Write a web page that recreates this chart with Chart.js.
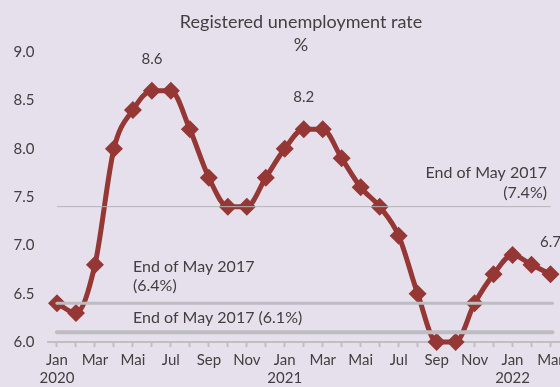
<!DOCTYPE html>
<html>
<head>
<meta charset="utf-8">
<script src="https://cdn.jsdelivr.net/npm/chart.js@4"></script>
<style>
  html, body { margin: 0; padding: 0; background: #e6e0ec; overflow: hidden; }
  #wrap { width: 560px; height: 387px; overflow: hidden; position: relative; }
  canvas { display: block; }
</style>
</head>
<body>
<div id="wrap"><canvas id="rateChart" width="600" height="391"></canvas></div>
<script>
const months = ['Jan', 'Feb', 'Mar', 'Apr', 'Mai', 'Jun', 'Jul', 'Aug', 'Sep', 'Oct', 'Nov', 'Dec',
                'Jan', 'Feb', 'Mar', 'Apr', 'Mai', 'Jun', 'Jul', 'Aug', 'Sep', 'Oct', 'Nov', 'Dec',
                'Jan', 'Feb', 'Mar'];
const years = { 0: '2020', 12: '2021', 24: '2022' };
const rate = [6.4, 6.3, 6.8, 8.0, 8.4, 8.6, 8.6, 8.2, 7.7, 7.4, 7.4, 7.7,
              8.0, 8.2, 8.2, 7.9, 7.6, 7.4, 7.1, 6.5, 6.0, 6.0, 6.4, 6.7,
              6.9, 6.8, 6.7];
// reference levels from end of May 2017
const refLevels = [7.4, 6.4, 6.1];
// which points carry a value label
const labelledPoints = [5, 13, 26];

const FONT = 'Lato, "Open Sans", sans-serif';
const TEXT = '#404040';

const overlay = {
  id: 'overlay',
  afterDatasetsDraw(chart) {
    const { ctx, scales: { x, y } } = chart;
    const x0 = x.getPixelForValue(0);
    const x1 = x.getPixelForValue(months.length - 1) + 2;
    const widths = [1, 3, 4];
    const colors = ['#b4b4b4', '#bdbcc0', '#bdbcc0'];
    ctx.save();
    refLevels.forEach((v, i) => {
      const py = y.getPixelForValue(v);
      ctx.beginPath();
      ctx.lineWidth = widths[i];
      ctx.strokeStyle = colors[i];
      ctx.lineCap = i === 0 ? 'butt' : 'round';
      ctx.moveTo(x0, py);
      ctx.lineTo(i === 0 ? x1 - 2 : x1, py);
      ctx.stroke();
    });

    ctx.fillStyle = TEXT;
    ctx.font = '16px ' + FONT;
    ctx.textBaseline = 'middle';
    const p74 = y.getPixelForValue(7.4);
    ctx.textAlign = 'right';
    ctx.fillText('End of May 2017', 547, p74 - 34);
    ctx.fillText('(7.4%)', 547, p74 - 14);
    const p64 = y.getPixelForValue(6.4);
    ctx.textAlign = 'left';
    ctx.fillText('End of May 2017', 133, p64 - 36);
    ctx.fillText('(6.4%)', 133, p64 - 17);
    const p61 = y.getPixelForValue(6.1);
    ctx.fillText('End of May 2017 (6.1%)', 133, p61 - 14);

    // value labels above selected points
    const meta = chart.getDatasetMeta(0);
    ctx.font = '15px ' + FONT;
    ctx.textAlign = 'center';
    labelledPoints.forEach(i => {
      const pt = meta.data[i];
      ctx.fillText(rate[i].toFixed(1), pt.x, pt.y - 32);
    });

    // title block
    ctx.font = '18px ' + FONT;
    ctx.fillText('Registered unemployment rate', 301, 22);
    ctx.fillText('%', 301, 45);
    ctx.restore();
  }
};

new Chart(document.getElementById('rateChart'), {
  type: 'line',
  data: {
    labels: months,
    datasets: [{
      data: rate,
      borderColor: '#953735',
      backgroundColor: '#953735',
      borderWidth: 5,
      tension: 0.4,
      cubicInterpolationMode: 'monotone',
      pointStyle: 'rectRot',
      pointRadius: 9,
      pointBorderWidth: 0,
      pointBackgroundColor: '#953735',
      clip: false
    }]
  },
  options: {
    responsive: false,
    animation: false,
    layout: { padding: { left: 12, right: 40, top: 52, bottom: 0 } },
    plugins: {
      legend: { display: false },
      tooltip: { enabled: false }
    },
    scales: {
      x: {
        offset: true,
        afterFit: s => { s.paddingLeft = 0; s.paddingRight = 0; },
        grid: {
          offset: false,
          drawOnChartArea: false,
          drawTicks: true,
          tickLength: 5,
          tickWidth: 2,
          tickColor: '#c0bfc4'
        },
        border: { color: '#c0bfc4', width: 2 },
        ticks: {
          autoSkip: false,
          maxRotation: 0,
          color: TEXT,
          padding: 4,
          font: { family: FONT, size: 15 },
          callback: (v, i) => {
            if (i % 2) return '';
            return years[i] ? [months[i], years[i]] : months[i];
          }
        }
      },
      y: {
        min: 6,
        max: 9,
        afterFit: s => { s.width = 35.5; },
        grid: { display: false, drawTicks: false },
        border: { display: false },
        ticks: {
          stepSize: 0.5,
          color: TEXT,
          padding: 13,
          font: { family: FONT, size: 15 },
          callback: v => v.toFixed(1)
        }
      }
    }
  },
  plugins: [overlay]
});
</script>
</body>
</html>
